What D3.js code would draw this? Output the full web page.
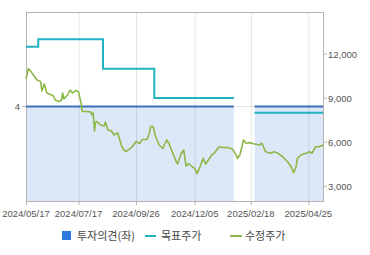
<!DOCTYPE html>
<html>
<head>
<meta charset="utf-8">
<script src="https://cdn.jsdelivr.net/npm/d3@7"></script>
<style>
  body { margin: 0; background: #fff; }
  text { font-family: "Liberation Sans", Arial, sans-serif; }
  .kr { font-family: "Noto Sans CJK KR", sans-serif; }
</style>
</head>
<body>
<div id="chart"></div>
<script>
// 거래일 인덱스 기준 데이터
var priceIdx = [0, 2, 4, 7, 9, 12, 13, 15, 17, 22, 24, 27, 29, 30, 31, 34, 36, 38, 41, 43,
  45, 46, 50, 53, 54, 55, 56, 57, 58, 61, 64, 65, 67, 70, 72, 75, 78, 80, 82, 86,
  88, 90, 93, 95, 99, 101, 102, 104, 106, 109, 112, 115, 117, 120, 123, 124, 127, 129, 131, 133,
  136, 138, 140, 143, 145, 147, 149, 152, 154, 158, 160, 165, 169, 172, 173, 175, 177, 178, 180, 183,
  187, 191, 193, 196, 200, 203, 206, 210, 214, 217, 219, 221, 222, 225, 229, 232, 234, 237, 240, 243];
var priceVal = [10300, 11010, 10810, 10470, 10230, 10120, 9480, 9960, 9350, 9180, 8870, 8760, 8870, 9350, 8940, 9210, 9550, 9350, 9520, 9420,
  8670, 8090, 8090, 8050, 7850, 7990, 6760, 7370, 7410, 7170, 7100, 7370, 6830, 6760, 6490, 6630, 5810, 5470, 5370, 5610,
  5810, 6050, 5910, 6180, 6180, 6630, 7070, 7070, 6390, 5810, 5570, 6150, 5910, 5270, 4670, 4520, 5230, 5470, 4380, 4550,
  4330, 4220, 3870, 4450, 4900, 4520, 4760, 5130, 5250, 5690, 5640, 5640, 5520, 5130, 4890, 5130, 5810, 6150, 5930, 5970,
  5880, 5810, 5930, 5350, 5250, 5350, 5250, 5010, 4670, 4330, 3930, 4330, 4900, 5130, 5250, 5350, 5250, 5690, 5690, 5810];

// 목표주가 구간
var targetStart = [0, 10, 63, 105, 187];
var targetEnd = [10, 63, 105, 170, 243];
var targetPrice = [12500, 13000, 11000, 9000, 8000];

// 투자의견 구간 (4 = 매수)
var opinionStart = [0, 187];
var opinionEnd = [170, 243];
var opinionVal = [4, 4];

var tickIdx = [0, 43, 90, 138, 184, 231];
var tickLabels = ["2024/05/17", "2024/07/17", "2024/09/26", "2024/12/05", "2025/02/18", "2025/04/25"];
var priceTicks = [3000, 6000, 9000, 12000];
var opinionTicks = [4];

var W = 370, H = 255;
var pLeft = 26, pRight = 323, pTop = 12, pBottom = 201;

var svg = d3.select("#chart").append("svg")
  .attr("width", W)
  .attr("height", H);

var x = d3.scaleLinear().domain([0, 243]).range([pLeft, pRight]);
var yR = d3.scaleLinear().domain([3000, 12000]).range([186.3, 54]);
var yL = d3.scaleLinear().domain([3, 5]).range([pBottom, pTop]);

// 투자의견 영역
opinionStart.forEach(function(s, i) {
  svg.append("rect")
    .attr("x", x(s))
    .attr("y", yL(opinionVal[i]))
    .attr("width", x(opinionEnd[i]) - x(s))
    .attr("height", pBottom - yL(opinionVal[i]))
    .attr("fill", "#dce7f7");
});

// 그리드
svg.selectAll(".vgrid")
  .data(tickIdx.slice(1))
  .enter().append("line")
  .attr("x1", function(d) { return x(d) + 0.5; })
  .attr("x2", function(d) { return x(d) + 0.5; })
  .attr("y1", pTop)
  .attr("y2", pBottom)
  .attr("stroke", "rgba(0,0,0,0.1)");

svg.selectAll(".hgrid")
  .data(opinionTicks)
  .enter().append("line")
  .attr("x1", pLeft)
  .attr("x2", pRight)
  .attr("y1", function(d) { return yL(d); })
  .attr("y2", function(d) { return yL(d); })
  .attr("stroke", "rgba(0,0,0,0.1)");

// 테두리
svg.append("rect")
  .attr("x", pLeft + 0.5)
  .attr("y", pTop + 0.5)
  .attr("width", pRight - pLeft)
  .attr("height", pBottom - pTop)
  .attr("fill", "none")
  .attr("stroke", "#b4b4b4");

// 투자의견 선
opinionStart.forEach(function(s, i) {
  svg.append("line")
    .attr("x1", x(s))
    .attr("x2", x(opinionEnd[i]))
    .attr("y1", yL(opinionVal[i]))
    .attr("y2", yL(opinionVal[i]))
    .attr("stroke", "#3d6fb8")
    .attr("stroke-width", 2);
});

// 목표주가 계단선
var stepPts = [];
targetStart.forEach(function(s, i) {
  if (i > 0 && s !== targetEnd[i - 1]) stepPts.push(null);
  stepPts.push([s, targetPrice[i]]);
  stepPts.push([targetEnd[i], targetPrice[i]]);
});

var stepLine = d3.line()
  .defined(function(d) { return d !== null; })
  .x(function(d) { return x(d[0]); })
  .y(function(d) { return yR(d[1]); });

svg.append("path")
  .datum(stepPts)
  .attr("d", stepLine)
  .attr("fill", "none")
  .attr("stroke", "#1fb3c2")
  .attr("stroke-width", 2);

// 수정주가
var priceLine = d3.line()
  .x(function(d, i) { return x(priceIdx[i]); })
  .y(function(d) { return yR(d); });

svg.append("path")
  .datum(priceVal)
  .attr("d", priceLine)
  .attr("fill", "none")
  .attr("stroke", "#8cb848")
  .attr("stroke-width", 1.6)
  .attr("stroke-linejoin", "round");

// 축
var axisColor = "#555";

svg.selectAll(".xlab")
  .data(tickIdx)
  .enter().append("text")
  .attr("x", function(d) { return x(d); })
  .attr("y", 217)
  .attr("text-anchor", "middle")
  .attr("font-size", "9.5px")
  .attr("fill", axisColor)
  .text(function(d, i) { return tickLabels[i]; });

svg.selectAll(".xtick")
  .data(tickIdx)
  .enter().append("line")
  .attr("x1", function(d) { return x(d) + 0.5; })
  .attr("x2", function(d) { return x(d) + 0.5; })
  .attr("y1", pBottom)
  .attr("y2", pBottom + 4)
  .attr("stroke", "#b4b4b4");

svg.selectAll(".rtick")
  .data(priceTicks)
  .enter().append("line")
  .attr("x1", pRight)
  .attr("x2", pRight + 4)
  .attr("y1", function(d) { return yR(d); })
  .attr("y2", function(d) { return yR(d); })
  .attr("stroke", "#b4b4b4");

svg.selectAll(".rlab")
  .data(priceTicks)
  .enter().append("text")
  .attr("x", pRight + 5)
  .attr("y", function(d) { return yR(d) + 3.5; })
  .attr("font-size", "9.5px")
  .attr("fill", axisColor)
  .text(function(d) { return d3.format(",")(d); });

svg.selectAll(".ltick")
  .data(opinionTicks)
  .enter().append("line")
  .attr("x1", pLeft - 4)
  .attr("x2", pLeft)
  .attr("y1", function(d) { return yL(d); })
  .attr("y2", function(d) { return yL(d); })
  .attr("stroke", "#b4b4b4");

svg.selectAll(".llab")
  .data(opinionTicks)
  .enter().append("text")
  .attr("x", pLeft - 6)
  .attr("y", function(d) { return yL(d) + 3.5; })
  .attr("text-anchor", "end")
  .attr("font-size", "9.5px")
  .attr("fill", axisColor)
  .text(function(d) { return d; });

// 범례
var legend = svg.append("g").attr("class", "kr");

legend.append("rect")
  .attr("x", 62).attr("y", 231)
  .attr("width", 9).attr("height", 9)
  .attr("fill", "#2d7be0");
legend.append("text")
  .attr("x", 77).attr("y", 239.5)
  .attr("font-size", "11px").attr("fill", "#444")
  .attr("class", "kr")
  .text("투자의견(좌)");

legend.append("line")
  .attr("x1", 145).attr("x2", 156)
  .attr("y1", 236).attr("y2", 236)
  .attr("stroke", "#1fb3c2").attr("stroke-width", 2);
legend.append("text")
  .attr("x", 161).attr("y", 239.5)
  .attr("font-size", "11px").attr("fill", "#444")
  .attr("class", "kr")
  .text("목표주가");

legend.append("line")
  .attr("x1", 230).attr("x2", 242)
  .attr("y1", 236).attr("y2", 236)
  .attr("stroke", "#8cb848").attr("stroke-width", 2);
legend.append("text")
  .attr("x", 245).attr("y", 239.5)
  .attr("font-size", "11px").attr("fill", "#444")
  .attr("class", "kr")
  .text("수정주가");
</script>
</body>
</html>
